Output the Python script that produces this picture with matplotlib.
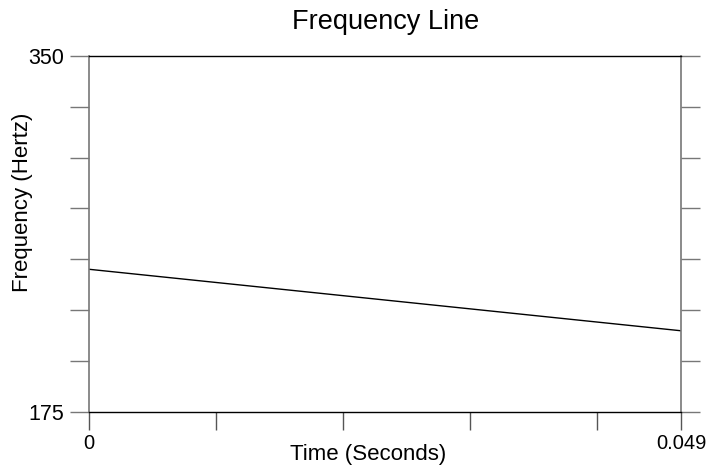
import matplotlib
matplotlib.use("Agg")
import matplotlib.pyplot as plt

# data
time_s = [0.0, 0.049]
freq_hz = [245.1, 214.9]

x_minor_ticks = [0.01051, 0.02102, 0.03153, 0.04204]
y_ticks = [175, 200, 225, 250, 275, 300, 325, 350]
x_labels = {0.0: "0", 0.049: "0.049"}
y_labels = {175: "175", 350: "350"}

plt.rcParams["font.family"] = ["Liberation Sans", "DejaVu Sans"]

W, H = 706, 467
fig = plt.figure(figsize=(W / 100, H / 100), dpi=100)
ax = fig.add_axes([89 / W, 1 - 412 / H, 592 / W, 356.3 / H])

ax.plot(time_s, freq_hz, color="black", linewidth=1.0)

ax.set_xlim(0, 0.049)
ax.set_ylim(175, 350)

xt = [0.0] + x_minor_ticks + [0.049]
ax.set_xticks(xt)
ax.set_xticklabels([x_labels.get(v, "") for v in xt], fontsize=14.5)
ax.set_yticks(y_ticks)
ax.set_yticklabels([y_labels.get(v, "") for v in y_ticks], fontsize=15.5)

ax.tick_params(axis="x", direction="out", length=13, width=1.0, color="#555555", pad=3)
ax.tick_params(axis="y", direction="out", length=14, width=1.0, color="#777777",
               right=True, pad=4)

for side in ("left", "right"):
    ax.spines[side].set_color("#777777")
    ax.spines[side].set_linewidth(1.2)
for side in ("top", "bottom"):
    ax.spines[side].set_color("black")
    ax.spines[side].set_linewidth(1.0)

ax.set_xlabel("Time (Seconds)", fontsize=16)
ax.xaxis.set_label_coords((368 - 89) / 592, (412 - 444) / 356.3)
ax.set_ylabel("Frequency (Hertz)", fontsize=16)
ax.yaxis.set_label_coords((33 - 89) / 592, (412 - 202) / 356.3)

fig.text(386 / W, 1 - 29 / H, "Frequency Line", fontsize=19.5,
         ha="center", va="baseline")

fig.savefig("out.png", dpi=100)
